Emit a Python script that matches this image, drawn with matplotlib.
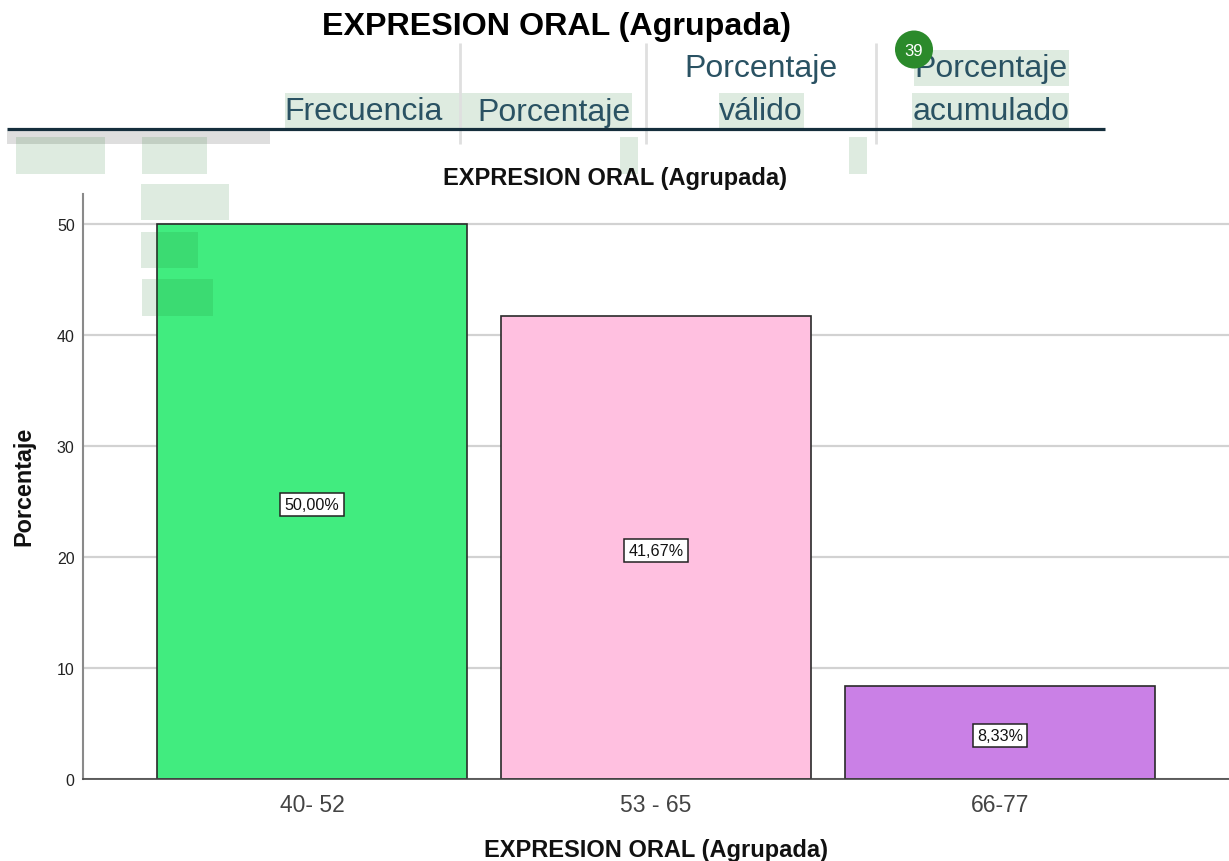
import matplotlib
matplotlib.use('Agg')
import matplotlib.pyplot as plt
from matplotlib.patches import Rectangle, Circle

plt.rcParams['font.family'] = ['Liberation Sans', 'DejaVu Sans']

# chart data
categories = ['40- 52', '53 - 65', '66-77']
percentages = [50.00, 41.67, 8.33]
bar_labels = ['50,00%', '41,67%', '8,33%']
bar_colors = ['#41ec7f', '#ffc0e0', '#ca80e6']
y_ticks = [0, 10, 20, 30, 40, 50]

title = 'EXPRESION ORAL (Agrupada)'
header_color = '#2a5263'

# leftover highlight boxes from the pasted table, in image pixels (x0, y0, x1, y1)
highlights = [
    (285, 93, 632, 128), (719, 93, 804, 128), (914, 50, 1069, 86), (912, 93, 1069, 128),
    (16, 137, 105, 174), (142, 137, 207, 174), (141, 184, 229, 220), (141, 232, 198, 268),
    (142, 279, 213, 316), (620, 137, 638, 174), (849, 137, 867, 174),
]

fig = plt.figure(figsize=(1229 / 100, 862 / 100), dpi=100, facecolor='white')

# the bar chart itself
left, right, top, bottom = 83, 1229, 195, 779.7
ax = fig.add_axes([left / 1229, 1 - bottom / 862, (right - left) / 1229, (bottom - top) / 862])
positions = range(len(categories))
ax.bar(positions, percentages, width=0.901, color=bar_colors, edgecolor='#2a2a2a', linewidth=1.2, zorder=3)
ax.set_xlim(-0.666, 2.666)
ax.set_ylim(0, 52.7)
ax.set_yticks(y_ticks)
ax.set_xticks(list(positions))
ax.set_xticklabels(categories, fontsize=16.5, color='#444444')
ax.tick_params(axis='both', length=0)
ax.tick_params(axis='y', labelsize=11.5, colors='#222222', pad=6)
ax.tick_params(axis='x', pad=10)
ax.yaxis.grid(True, color='#d2d2d2', linewidth=1.6, zorder=0)
ax.set_axisbelow(True)
for side in ['top', 'right']:
    ax.spines[side].set_visible(False)
ax.spines['left'].set_color('#8a8a8a')
ax.spines['left'].set_linewidth(1.5)
ax.spines['bottom'].set_color('#444444')
ax.spines['bottom'].set_linewidth(1.2)
ax.spines['bottom'].set_zorder(4)

# value boxes sit a little under the middle of each bar
for i, val in enumerate(percentages):
    ax.annotate(bar_labels[i], (i, val / 2), xytext=(0, -2.2), textcoords='offset points',
                ha='center', va='center', fontsize=11.6, color='#111111', zorder=5,
                bbox=dict(boxstyle='square,pad=0.26', facecolor='white', edgecolor='#222222', linewidth=1.1))

# everything pasted over the chart, drawn in image pixels
over = fig.add_axes([0, 0, 1, 1], facecolor='none', zorder=10)
over.set_xlim(0, 1229)
over.set_ylim(861.5, -0.5)
over.axis('off')

over.add_patch(Rectangle((7, 131), 263, 13, color='#dedede', lw=0, zorder=1))
for x0, y0, x1, y1 in highlights:
    over.add_patch(Rectangle((x0, y0), x1 - x0, y1 - y0, color=(0.1, 0.46, 0.14, 0.14), lw=0, zorder=2))
for x in [460, 646, 876]:
    over.plot([x, x], [43, 144], color='#dfdfdf', linewidth=2, solid_capstyle='butt', zorder=3)
over.plot([7, 1105], [129.5, 129.5], color='#152e3c', linewidth=2.3, solid_capstyle='butt', zorder=4)

over.text(556.5, 27, title, ha='center', va='center', fontsize=23.2, fontweight='bold', color='black')
over.text(615, 178, title, ha='center', va='center', fontsize=17, fontweight='bold', color='#111111')
over.text(656, 850, title, ha='center', va='center', fontsize=17, fontweight='bold', color='#111111')
over.text(24, 485.5, 'Porcentaje', ha='center', va='center', rotation=90, fontsize=16.8, fontweight='bold', color='#111111')

over.text(364, 112, 'Frecuencia', ha='center', va='center', fontsize=23, color=header_color)
over.text(554, 112, 'Porcentaje', ha='center', va='center', fontsize=23, color=header_color)
over.text(761, 69, 'Porcentaje', ha='center', va='center', fontsize=23, color=header_color)
over.text(761, 112, 'válido', ha='center', va='center', fontsize=23, color=header_color)
over.text(991, 69, 'Porcentaje', ha='center', va='center', fontsize=23, color=header_color)
over.text(991, 112, 'acumulado', ha='center', va='center', fontsize=23, color=header_color)

over.add_patch(Circle((914, 50), 19, color='#2b8a2b', lw=0, zorder=6))
over.text(914, 51, '39', ha='center', va='center', fontsize=12, color='white', zorder=7)

fig.savefig('out.png', dpi=100)
